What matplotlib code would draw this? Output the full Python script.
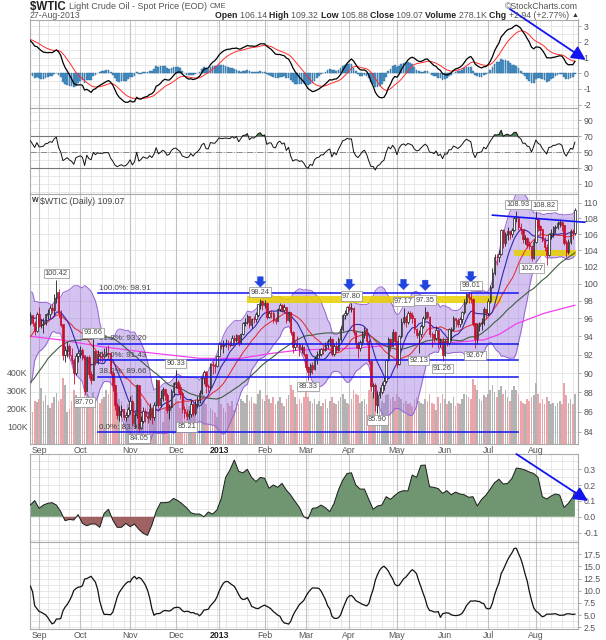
import numpy as np
import pandas as pd
import matplotlib
matplotlib.use("Agg")
import matplotlib.pyplot as plt
from matplotlib.ticker import NullLocator
import matplotlib.transforms as mtrans

plt.rcParams['font.family'] = ['Liberation Sans', 'DejaVu Sans']

# ------------------------------------------------------------------ data
start_date = "2012-08-28"
end_date = "2013-08-27"
holidays = ["2012-09-03", "2012-11-22", "2012-12-25", "2013-01-01", "2013-01-21",
            "2013-02-18", "2013-03-29", "2013-05-27", "2013-07-04"]

# closes before the visible window (indicator warm-up)
warmup_closes = [83.23, 83.98, 84.29, 85.02, 84.82, 84.10, 82.70, 83.32, 82.62, 83.91,
                 84.03, 83.27, 84.03, 81.80, 78.20, 79.76, 79.21, 79.36, 80.21, 77.69,
                 84.96, 83.75, 87.66, 87.22, 84.45, 85.99, 83.91, 85.81, 86.08, 87.10,
                 88.43, 89.22, 89.87, 92.66, 91.44, 88.14, 88.50, 89.97, 89.39, 90.13,
                 89.78, 88.06, 88.91, 87.13, 91.40, 92.20, 93.67, 93.35, 93.36, 92.87,
                 92.73, 93.43, 94.33, 95.60, 96.01, 95.97, 96.68, 97.26, 96.27, 96.15,
                 95.47]

closes = [96.33, 95.49, 94.62, 96.47, 95.30, 95.36, 95.53, 96.42, 96.54, 97.17,
          97.01, 98.31, 99.00, 96.62, 95.29, 91.98, 92.42, 92.89, 91.93, 91.37,
          89.98, 91.85, 92.19, 92.48, 91.89, 88.14, 91.71, 89.88, 89.33, 92.39,
          91.25, 92.07, 91.86, 91.85, 92.09, 92.12, 92.10, 90.05, 88.73, 86.67,
          85.73, 86.05, 86.28, 85.54, 85.68, 86.24, 87.09, 84.86, 85.65, 88.71,
          84.44, 85.09, 86.07, 85.57, 85.38, 86.32, 85.45, 86.67, 89.28, 86.75,
          87.38, 88.28, 87.74, 86.18, 86.49, 88.07, 88.91, 89.09, 88.49, 87.88,
          86.26, 85.93, 85.56, 85.80, 86.77, 85.89, 86.73, 87.20, 87.93, 89.51,
          90.13, 88.66, 88.61, 90.98, 90.87, 90.80, 91.82, 93.12, 92.92, 93.09,
          93.19, 93.15, 93.10, 93.82, 93.56, 94.14, 93.28, 94.24, 95.49, 95.56,
          96.24, 95.23, 95.95, 95.88, 96.44, 97.57, 97.94, 97.49, 97.77, 96.17,
          96.64, 96.62, 95.83, 95.72, 97.03, 97.51, 97.01, 97.31, 95.86, 96.66,
          94.46, 92.84, 93.13, 93.11, 92.63, 92.76, 92.05, 90.68, 90.12, 90.82,
          90.43, 91.56, 91.95, 92.06, 92.54, 92.52, 93.03, 93.45, 93.73, 92.06,
          92.96, 92.45, 93.71, 94.81, 96.34, 96.58, 97.23, 97.07, 97.19, 94.45,
          93.26, 92.70, 93.36, 94.20, 94.64, 93.50, 91.29, 88.71, 88.72, 86.68,
          87.73, 88.01, 88.76, 89.18, 91.44, 93.64, 92.96, 94.50, 93.46, 91.03,
          93.99, 95.61, 96.16, 95.62, 96.62, 96.39, 96.04, 94.80, 94.17, 94.30,
          95.16, 96.02, 96.71, 96.16, 94.28, 94.25, 93.84, 94.65, 93.13, 93.61,
          91.97, 93.45, 93.31, 94.74, 94.76, 96.03, 95.77, 95.38, 95.88, 96.69,
          97.85, 98.77, 98.44, 98.24, 95.40, 93.69, 95.18, 95.32, 95.50, 97.05,
          96.56, 97.99, 99.60, 101.24, 103.22, 103.14, 103.53, 106.52, 104.91, 105.95,
          106.32, 106.00, 106.48, 108.04, 108.05, 106.91, 106.59, 105.39, 105.49, 104.70,
          104.55, 103.08, 105.03, 107.89, 106.94, 106.56, 105.30, 104.37, 103.40, 105.97,
          106.11, 106.83, 106.85, 107.33, 107.46, 107.10, 104.96, 103.85, 105.03, 106.42,
          106.13, 109.07]

highs = [96.7, 96.4, 95.7, 96.7, 97.3, 95.9, 96.0, 96.5, 97.1, 97.5,
         97.6, 98.8, 100.42, 99.4, 97.0, 95.4, 92.9, 93.4, 93.2, 92.7,
         91.6, 92.2, 92.5, 92.9, 92.7, 91.9, 91.9, 92.0, 90.2, 93.66,
         92.5, 92.5, 92.3, 92.4, 92.7, 92.8, 93.0, 92.2, 90.3, 88.8,
         86.9, 86.6, 86.7, 86.3, 86.0, 86.5, 87.6, 87.2, 86.0, 88.9,
         88.6, 85.6, 86.5, 86.3, 86.0, 86.9, 86.5, 87.0, 89.4, 89.2,
         88.2, 88.6, 88.4, 87.9, 86.8, 88.4, 89.1, 90.33, 89.3, 88.9,
         88.1, 86.6, 86.3, 86.2, 87.2, 86.9, 87.2, 87.6, 88.2, 89.7,
         90.3, 90.2, 88.9, 91.1, 91.3, 91.1, 92.0, 93.4, 93.4, 93.6,
         93.7, 93.6, 93.5, 94.2, 94.1, 94.3, 94.2, 94.4, 95.6, 96.0,
         96.5, 96.3, 96.1, 96.3, 96.7, 97.7, 98.24, 98.1, 98.1, 97.9,
         96.9, 97.0, 96.9, 96.2, 97.2, 97.8, 97.7, 97.6, 97.3, 96.9,
         96.7, 94.6, 93.4, 94.0, 93.3, 93.2, 92.9, 92.1, 90.8, 91.1,
         91.2, 91.8, 92.4, 92.6, 92.7, 92.9, 93.4, 93.7, 94.0, 93.8,
         93.2, 93.5, 93.9, 95.1, 96.5, 97.0, 97.4, 97.6, 97.80, 97.3,
         94.6, 93.5, 93.6, 94.6, 95.0, 94.9, 93.7, 91.4, 89.0, 89.0,
         88.1, 88.6, 89.1, 89.7, 91.5, 93.9, 93.8, 94.8, 94.6, 93.5,
         94.2, 96.0, 97.17, 96.4, 96.9, 96.8, 96.7, 96.1, 94.9, 94.7,
         95.4, 96.3, 97.35, 96.9, 96.3, 94.5, 94.3, 95.2, 94.8, 93.8,
         93.9, 93.7, 93.9, 94.9, 95.0, 96.3, 96.1, 96.1, 96.2, 96.9,
         98.2, 98.9, 99.0, 99.01, 98.3, 95.5, 95.5, 95.6, 96.0, 97.3,
         97.1, 98.3, 99.8, 101.9, 103.6, 103.5, 104.0, 106.6, 106.6, 106.3,
         106.9, 106.4, 106.8, 108.3, 108.93, 108.0, 107.4, 106.7, 105.9, 105.7,
         105.2, 104.7, 105.4, 108.82, 108.1, 107.1, 106.7, 105.6, 104.8, 106.1,
         106.6, 107.0, 107.1, 107.6, 107.9, 107.7, 107.2, 105.3, 105.4, 106.6,
         106.7, 109.32]

lows = [95.3, 95.1, 94.2, 94.5, 95.0, 94.9, 94.4, 95.3, 95.9, 96.0,
        96.6, 96.4, 97.8, 96.0, 95.0, 91.4, 91.2, 91.7, 91.6, 91.0,
        88.9, 89.8, 91.2, 91.6, 91.4, 87.70, 88.1, 89.5, 88.9, 89.3,
        90.9, 91.0, 91.3, 91.2, 91.6, 91.8, 91.6, 89.8, 88.1, 86.2,
        85.3, 85.1, 85.5, 85.2, 85.1, 85.5, 85.8, 84.6, 84.4, 85.4,
        84.05, 84.3, 84.9, 85.0, 84.9, 85.2, 84.8, 85.2, 86.6, 86.4,
        86.5, 87.1, 87.2, 85.9, 85.3, 86.4, 87.6, 88.5, 87.9, 87.3,
        85.9, 85.4, 85.21, 85.3, 85.5, 85.6, 85.7, 86.4, 86.9, 87.8,
        88.9, 87.9, 88.0, 88.3, 89.9, 90.0, 90.7, 91.8, 92.6, 92.2,
        92.8, 92.5, 92.8, 93.0, 93.1, 93.4, 92.9, 93.2, 94.1, 95.1,
        95.4, 94.9, 94.9, 95.5, 95.6, 96.2, 97.1, 97.0, 97.2, 95.9,
        96.0, 96.1, 95.5, 95.4, 95.7, 96.8, 96.7, 96.7, 95.5, 95.6,
        94.1, 92.2, 92.5, 92.8, 91.8, 92.2, 91.8, 90.3, 89.33, 89.8,
        89.9, 90.3, 91.0, 91.6, 91.8, 92.1, 92.4, 92.7, 92.9, 91.9,
        91.9, 92.2, 92.4, 93.5, 94.6, 95.9, 96.4, 96.8, 96.7, 94.2,
        92.7, 91.6, 92.4, 93.1, 93.8, 93.1, 91.0, 88.1, 87.4, 86.1,
        85.90, 87.4, 87.8, 88.2, 89.0, 91.3, 92.4, 92.9, 93.0, 90.6,
        90.9, 93.8, 95.4, 95.0, 95.4, 95.9, 95.5, 94.4, 93.8, 92.13,
        93.9, 94.9, 95.8, 95.9, 93.9, 92.8, 93.4, 93.6, 92.7, 92.8,
        91.26, 91.8, 92.9, 93.0, 93.5, 94.6, 95.0, 95.0, 95.0, 95.5,
        96.5, 97.7, 97.8, 97.8, 95.2, 92.67, 93.2, 94.6, 94.7, 95.3,
        96.1, 96.4, 97.8, 99.5, 101.0, 102.2, 102.6, 103.4, 104.3, 104.5,
        105.3, 105.4, 105.6, 106.4, 107.5, 106.5, 106.0, 104.9, 104.8, 104.3,
        104.2, 102.67, 103.0, 104.9, 106.4, 105.8, 105.0, 103.9, 102.2, 103.3,
        105.4, 105.7, 106.1, 106.6, 106.9, 106.4, 104.6, 103.2, 103.6, 104.8,
        105.4, 105.88]

first_open = 95.47
last_open = 106.14

volumes_k = [190, 180, 240, 235, 250, 310, 240, 270, 215, 200, 230, 260,
             285, 240, 250, 367, 330, 180, 195, 240, 300, 270, 230, 210,
             250, 300, 280, 260, 220, 290, 240, 270, 230, 250, 260, 300,
             280, 370, 400, 360, 290, 250, 240, 120, 130, 220, 240, 270,
             230, 280, 300, 250, 170, 200, 230, 210, 190, 180, 240, 210,
             190, 120, 200, 230, 210, 260, 230, 250, 240, 200, 280, 250,
             230, 210, 240, 200, 190, 240, 260, 300, 270, 220, 110, 200,
             190, 170, 150, 260, 220, 200, 180, 230, 210, 240, 190, 230,
             220, 250, 240, 230, 270, 240, 260, 230, 220, 280, 300, 250,
             240, 270, 250, 230, 260, 220, 240, 260, 230, 210, 250, 270,
             330, 300, 260, 220, 250, 230, 260, 290, 260, 240, 230, 250,
             220, 240, 210, 230, 250, 200, 240, 260, 230, 220, 240, 260,
             280, 250, 230, 220, 250, 300, 280, 270, 230, 240, 250, 220,
             300, 340, 290, 330, 300, 260, 240, 230, 270, 280, 250, 260,
             240, 280, 260, 250, 230, 240, 220, 230, 210, 250, 260, 240,
             230, 220, 250, 240, 280, 230, 220, 190, 260, 230, 280, 250,
             220, 240, 230, 260, 210, 230, 220, 250, 280, 270, 260, 250,
             360, 330, 300, 250, 240, 270, 260, 280, 300, 330, 290, 260,
             300, 320, 280, 300, 260, 240, 300, 320, 300, 280, 240, 230,
             220, 250, 240, 260, 270, 340, 280, 230, 250, 220, 260, 240,
             220, 230, 210, 230, 240, 220, 340, 270, 230, 250, 220, 278]

sma200_idx = [0, 14, 32, 55, 78, 97, 110, 124, 149, 170, 193, 209, 216, 224, 237, 251]
sma200_val = [94.0, 93.6, 92.9, 92.2, 91.6, 91.6, 92.1, 92.5, 92.7, 93.1, 93.3, 93.6,
              94.2, 95.4, 96.6, 97.5]

cmf_idx = list(range(0, 252, 2)) + [251]
cmf_vals = [0.074, 0.102, 0.053, 0.074, 0.085, 0.089, 0.074, 0.032, -0.025, -0.017,
            -0.021, 0.013, -0.042, -0.057, -0.046, -0.046, -0.067, 0.021, 0.047, -0.021,
            -0.067, -0.067, -0.042, -0.063, -0.046, -0.080, -0.105, -0.118, -0.053, 0.034,
            0.089, 0.089, 0.093, 0.116, 0.102, 0.081, 0.057, 0.025, 0.017, 0.017,
            0.0, 0.030, 0.017, 0.043, 0.116, 0.249, 0.296, 0.359, 0.287, 0.278,
            0.300, 0.249, 0.222, 0.249, 0.243, 0.180, 0.201, 0.186, 0.211, 0.169,
            0.137, 0.097, 0.059, 0.0, -0.013, 0.053, 0.057, 0.074, 0.057, 0.032,
            0.085, 0.169, 0.232, 0.274, 0.278, 0.201, 0.175, 0.175, 0.110, 0.047,
            0.068, 0.074, 0.127, 0.110, 0.135, 0.156, 0.165, 0.163, 0.264, 0.249,
            0.325, 0.327, 0.190, 0.186, 0.178, 0.148, 0.165, 0.139, 0.156, 0.144,
            0.139, 0.123, 0.127, 0.068, 0.110, 0.137, 0.175, 0.216, 0.237, 0.207,
            0.211, 0.243, 0.308, 0.304, 0.296, 0.283, 0.274, 0.249, 0.127, 0.112,
            0.131, 0.144, 0.137, 0.059, 0.085, 0.123, 0.159]

label_idx = [12, 29, 25, 67, 50, 72, 106, 128, 148, 160, 172, 182, 179, 190, 203, 205, 224, 233, 231]
label_txt = ["100.42", "93.66", "87.70", "90.33", "84.05", "85.21", "98.24", "89.33", "97.80",
             "85.90", "97.17", "97.35", "92.13", "91.26", "99.01", "92.67", "108.93", "108.82", "102.67"]
label_above = [1, 1, 0, 1, 0, 0, 1, 0, 1, 0, 1, 1, 0, 0, 1, 0, 1, 1, 0]
label_shift_px = [0, 0, 0, 0, 0, 0, 0, 0, 0, 0, 0, 0, 0, 0, 0, 0, 2, 8, 0]

fib_names = ["100.0%", "61.8%", "50.0%", "38.2%", "0.0%"]
fib_values = [98.91, 93.20, 91.43, 89.66, 83.95]
fib_start, fib_end = 31, 225

zone_x0 = [100, 223]
zone_x1 = [217, 251.6]
zone_lo = [97.75, 103.35]
zone_hi = [98.60, 104.05]

arrow_idx = [106, 147, 172, 182, 203]
arrow_tip = [99.6, 99.3, 99.3, 99.2, 100.2]

trend_price_x = [213, 255.5]
trend_price_y = [108.4, 107.5]
trend_macd_x = [221, 256]
trend_macd_y = [4.1, 0.85]
trend_cmf_x = [224, 257]
trend_cmf_y = [0.397, 0.10]

month_names = ["Sep", "Oct", "Nov", "Dec", "2013", "Feb", "Mar", "Apr", "May", "Jun", "Jul", "Aug"]

# ------------------------------------------------------------------ derived
W, H = 606, 640
dates = pd.bdate_range(start_date, end_date)
dates = dates[~dates.isin(pd.to_datetime(holidays))]
n = len(dates)
x = np.arange(n)
c = np.array(closes, float)
hi = np.array(highs, float)
lo = np.array(lows, float)
vol = np.array(volumes_k, float)
o = np.concatenate([[first_open], c[:-1]])
o[-1] = last_open
prev = np.concatenate([[warmup_closes[-1]], c[:-1]])

allc = pd.Series(warmup_closes + closes, dtype=float)
nw = len(warmup_closes)
sma10 = allc.rolling(10).mean().values[nw:]
m20 = allc.rolling(20).mean()
s20 = allc.rolling(20).std(ddof=0)
bb_up = (m20 + 2 * s20).values[nw:]
bb_dn = (m20 - 2 * s20).values[nw:]
bb_mid = m20.values[nw:]
sma50 = allc.rolling(50).mean().values[nw:]
e12 = allc.ewm(span=12, adjust=False).mean()
e26 = allc.ewm(span=26, adjust=False).mean()
macd_s = e12 - e26
sig_s = macd_s.ewm(span=9, adjust=False).mean()
macd = macd_s.values[nw:]
sig = sig_s.values[nw:]
hist = macd - sig
dd = allc.diff()
gain = dd.clip(lower=0).ewm(alpha=1 / 14, adjust=False).mean()
loss = (-dd).clip(lower=0).ewm(alpha=1 / 14, adjust=False).mean()
rsi = (100 - 100 / (1 + gain / loss)).values[nw:]
bw = (bb_up - bb_dn) / bb_mid * 100

month_first = [i for i in range(1, n) if dates[i].month != dates[i - 1].month]
week_first = [i for i in range(1, n) if dates[i].weekday() < dates[i - 1].weekday()]

# ------------------------------------------------------------------ figure
fig = plt.figure(figsize=(W / 100, H / 100), dpi=100)
fig.patch.set_facecolor('white')
XL = (-0.4, 252.2)
GRID = '#e4e4e4'
MONTH = '#c2c2c2'
TXT = '#555555'
BLUE = '#1414f0'


def px_axes(top, bottom, left=29.5, right=577.5):
    return fig.add_axes([left / W, 1 - bottom / H, (right - left) / W, (bottom - top) / H])


def base_style(ax, ylim, yticks, ylabels, hgrid, vgrid=True, ytrans=None):
    ax.set_xlim(XL)
    ax.set_ylim(ylim)
    tr = ytrans if ytrans is not None else ax.get_yaxis_transform()
    for v in hgrid:
        ax.plot([0, 1], [v, v], transform=tr, color=GRID, lw=0.6, zorder=0)
    if vgrid:
        for i in week_first:
            ax.axvline(i, color=GRID, lw=0.6, zorder=0)
        for i in month_first:
            ax.axvline(i, color=MONTH, lw=0.8, zorder=0)
    ax.yaxis.tick_right()
    ax.yaxis.set_minor_locator(NullLocator())
    ax.set_yticks(yticks)
    ax.set_yticklabels(ylabels)
    ax.tick_params(axis='y', which='both', length=2, width=0.6, color='#999999',
                   labelsize=6.3, labelcolor=TXT, pad=2.5)
    ax.set_xticks([])
    for s in ax.spines.values():
        s.set_color('#aaaaaa')
        s.set_linewidth(0.8)


def month_labels(ax):
    ax.set_xticks(month_first)
    ax.set_xticklabels(month_names)
    ax.tick_params(axis='x', length=0, pad=1.5, labelsize=6.3, labelcolor=TXT)
    for t in ax.get_xticklabels():
        if t.get_text() == "2013":
            t.set_fontweight('bold')
            t.set_color('#222222')


# ---------------- MACD panel
ax_m = px_axes(19.5, 107.5)
base_style(ax_m, (-2.18, 3.43), [-2, -1, 0, 1, 2, 3], ['-2', '-1', '0', '1', '2', '3'],
           np.arange(-2, 3.5, 0.5))
ax_m.bar(x, hist, width=0.8, color='#4a92c8', edgecolor='#2c6c9c', linewidth=0.3, zorder=2)
ax_m.plot(x, sig, color='#ff2a2a', lw=0.7, zorder=3)
ax_m.plot(x, macd, color='black', lw=0.9, zorder=4)
an = ax_m.annotate('', xy=(trend_macd_x[1], trend_macd_y[1]), xytext=(trend_macd_x[0], trend_macd_y[0]),
                   xycoords='data', textcoords='data', annotation_clip=False,
                   arrowprops=dict(arrowstyle='-|>,head_length=0.7,head_width=0.35', color=BLUE,
                                   lw=1.3, mutation_scale=12, shrinkA=0, shrinkB=0))
an.set_clip_on(False)
an.arrow_patch.set_clip_on(False)

# ---------------- RSI panel
ax_r = px_axes(107.5, 194)
base_style(ax_r, (-2.9, 106.3), [10, 30, 50, 70, 90], ['10', '30', '50', '70', '90'],
           np.arange(0, 101, 10))
ax_r.axhline(70, color='#777777', lw=0.8, zorder=1)
ax_r.axhline(30, color='#777777', lw=0.8, zorder=1)
ax_r.axhline(50, color='#8a8a8a', lw=0.7, ls='-.', zorder=1)
ax_r.fill_between(x, 70, rsi, where=rsi >= 70, interpolate=True, color='#4f7d52', lw=0, zorder=2)
ax_r.fill_between(x, 30, rsi, where=rsi <= 30, interpolate=True, color='#9a5a5a', lw=0, zorder=2)
ax_r.plot(x, rsi, color='#111111', lw=0.7, zorder=3)

# ---------------- Price panel (volume underneath)
ax_v = px_axes(194, 444)
ax_p = px_axes(194, 444)
ax_p.set_yscale('log')
ax_p.set_facecolor('none')
ax_p.set_zorder(ax_v.get_zorder() + 1)
price_ticks = list(range(84, 111, 2))
ax_v.set_xlim(XL)
ax_v.set_ylim(0, 1389)
ax_v.set_xticks([])
ax_v.yaxis.tick_left()
ax_v.set_yticks([100, 200, 300, 400])
ax_v.set_yticklabels(['100K', '200K', '300K', '400K'])
ax_v.tick_params(axis='y', length=0, labelsize=6.3, labelcolor=TXT, pad=1.5)
for s in ax_v.spines.values():
    s.set_visible(False)
ptrans = mtrans.blended_transform_factory(ax_v.transAxes, ax_p.transData)
for v in price_ticks:
    ax_v.plot([0, 1], [v, v], transform=ptrans, color=GRID, lw=0.6, zorder=0)
for i in week_first:
    ax_v.axvline(i, color=GRID, lw=0.6, zorder=0)
for i in month_first:
    ax_v.axvline(i, color=MONTH, lw=0.8, zorder=0)
vcols = np.where(c < prev, '#e8a6aa', '#b3b3b3')
ax_v.bar(x, vol, width=0.78, color=vcols, linewidth=0, zorder=1)

base_style(ax_p, (82.82, 111.13), price_ticks, [str(t) for t in price_ticks], [], vgrid=False)
month_labels(ax_p)

ax_p.fill_between(x, bb_dn, bb_up, color='#a07ae0', alpha=0.45, lw=0, zorder=1)
ax_p.plot(x, bb_up, color='#9464d6', lw=0.7, zorder=2)
ax_p.plot(x, bb_dn, color='#9464d6', lw=0.7, zorder=2)
ax_p.plot(x, bb_mid, color='#b796e6', lw=0.6, ls=':', zorder=2)
for a, b, l, h in zip(zone_x0, zone_x1, zone_lo, zone_hi):
    ax_p.fill_between([a, b], l, h, color='#e9d000', alpha=0.85, lw=0, zorder=2.5)
ax_p.plot(sma200_idx, sma200_val, color='#f040f0', lw=0.9, zorder=3)
ax_p.plot(x, sma50, color='#3e5e40', lw=0.8, zorder=3)
ax_p.plot(x, m20.values[nw:], color='#e82828', lw=0.7, zorder=3)
ax_p.plot(x, sma10, color='#3028b0', lw=0.8, zorder=3)

ccol = np.where(c < prev, '#c8102e', '#1a1a1a')
face = np.where(c < o, ccol, 'white')
ax_p.vlines(x, lo, hi, colors=ccol, lw=0.6, zorder=5)
ax_p.bar(x, np.abs(c - o) + 0.03, bottom=np.minimum(o, c), width=0.64, color=face,
         edgecolor=ccol, linewidth=0.5, zorder=6)

for name, val in zip(fib_names, fib_values):
    ax_p.plot([fib_start, fib_end], [val, val], color=BLUE, lw=1.1, zorder=7)
    ax_p.annotate(f"{name}: {val:.2f}", xy=(fib_start, val), xytext=(1, 0.8),
                  textcoords='offset points', fontsize=5.8, color='#444444', va='bottom', zorder=8)

ax_p.plot(trend_price_x, trend_price_y, color=BLUE, lw=1.2, zorder=7, clip_on=False)

for i, tip in zip(arrow_idx, arrow_tip):
    ax_p.annotate('', xy=(i, tip), xytext=(0, 7.5), textcoords='offset points',
                  arrowprops=dict(arrowstyle='simple,head_length=0.45,head_width=0.9,tail_width=0.45',
                                  fc='#1f44e0', ec='#1f44e0', lw=0.3, mutation_scale=9,
                                  shrinkA=0, shrinkB=0), zorder=9)

bbox = dict(boxstyle='square,pad=0.18', fc='white', ec='#8c8c8c', lw=0.5)
for i, t, up, sh in zip(label_idx, label_txt, label_above, label_shift_px):
    val = float(t)
    dx = sh * 0.72
    if up:
        ax_p.annotate(t, xy=(i, val), xytext=(dx, 2.2), textcoords='offset points', ha='center',
                      va='bottom', fontsize=5.4, color='#444444', bbox=bbox, zorder=10)
    else:
        ax_p.annotate(t, xy=(i, val), xytext=(dx, -2.5), textcoords='offset points', ha='center',
                      va='top', fontsize=5.4, color='#444444', bbox=bbox, zorder=10)

ax_p.text(0.004, 0.988, 'W', transform=ax_p.transAxes, fontsize=5, fontweight='bold',
          color='#333333', va='top', ha='left', zorder=10)
ax_p.text(0.019, 0.988, '$WTIC (Daily) 109.07', transform=ax_p.transAxes, fontsize=6.3,
          color='#444444', va='top', ha='left', zorder=10)

# ---------------- CMF panel
ax_c = px_axes(454, 541.7)
base_style(ax_c, (-0.158, 0.397), [-0.1, 0.0, 0.1, 0.2, 0.3], ['-0.1', '0.0', '0.1', '0.2', '0.3'],
           np.arange(-0.15, 0.40, 0.05))
cv = np.array(cmf_vals)
ax_c.fill_between(cmf_idx, 0, cv, where=cv >= 0, interpolate=True, color='#6f9671', lw=0, zorder=2)
ax_c.fill_between(cmf_idx, 0, cv, where=cv <= 0, interpolate=True, color='#9e6262', lw=0, zorder=2)
ax_c.plot(cmf_idx, cv, color='#1a1a1a', lw=0.7, zorder=3)
an2 = ax_c.annotate('', xy=(trend_cmf_x[1], trend_cmf_y[1]), xytext=(trend_cmf_x[0], trend_cmf_y[0]),
                    xycoords='data', textcoords='data', annotation_clip=False,
                    arrowprops=dict(arrowstyle='-|>,head_length=0.7,head_width=0.35', color=BLUE,
                                    lw=1.3, mutation_scale=12, shrinkA=0, shrinkB=0))
an2.set_clip_on(False)
an2.arrow_patch.set_clip_on(False)

# ---------------- BandWidth panel
ax_b = px_axes(541.7, 629)
base_style(ax_b, (2.15, 20.09), [2.5, 5, 7.5, 10, 12.5, 15, 17.5],
           ['2.5', '5.0', '7.5', '10.0', '12.5', '15.0', '17.5'], np.arange(2.5, 20, 1.25))
ax_b.plot(x, bw, color='#111111', lw=0.9, zorder=3)
month_labels(ax_b)

# ---------------- header
rend = fig.canvas.get_renderer()


def seq_text(x_px, y_px, pieces, align='left'):
    objs, widths = [], []
    for t, kw in pieces:
        ob = fig.text(0, 0, t, va='center', ha='left', **kw)
        widths.append(ob.get_window_extent(rend).width)
        objs.append(ob)
    xx = x_px - sum(widths) if align == 'right' else x_px
    for ob, w in zip(objs, widths):
        ob.set_position((xx / W, 1 - y_px / H))
        xx += w


seq_text(30, 6.5, [("$WTIC ", dict(fontsize=8.3, fontweight='bold', color='#222222')),
                   ("Light Crude Oil - Spot Price (EOD) ", dict(fontsize=6.5, color=TXT)),
                   ("CME", dict(fontsize=5.3, color=TXT))])
seq_text(30, 15.5, [("27-Aug-2013", dict(fontsize=6.3, color=TXT))])
seq_text(578, 6.5, [("\u00a9StockCharts.com", dict(fontsize=6.3, color=TXT))], align='right')
B = dict(fontsize=6.3, fontweight='bold', color='#222222')
N = dict(fontsize=6.3, color=TXT)
seq_text(578, 15.5, [("Open ", B), ("106.14 ", N), ("High ", B), ("109.32 ", N), ("Low ", B),
                     ("105.88 ", N), ("Close ", B), ("109.07 ", N), ("Volume ", B), ("278.1K ", N),
                     ("Chg ", B), ("+2.94 (+2.77%) ", N), ("\u25b2", dict(fontsize=5, color='#333333'))],
         align='right')

fig.savefig('out.png', dpi=100, facecolor='white')
